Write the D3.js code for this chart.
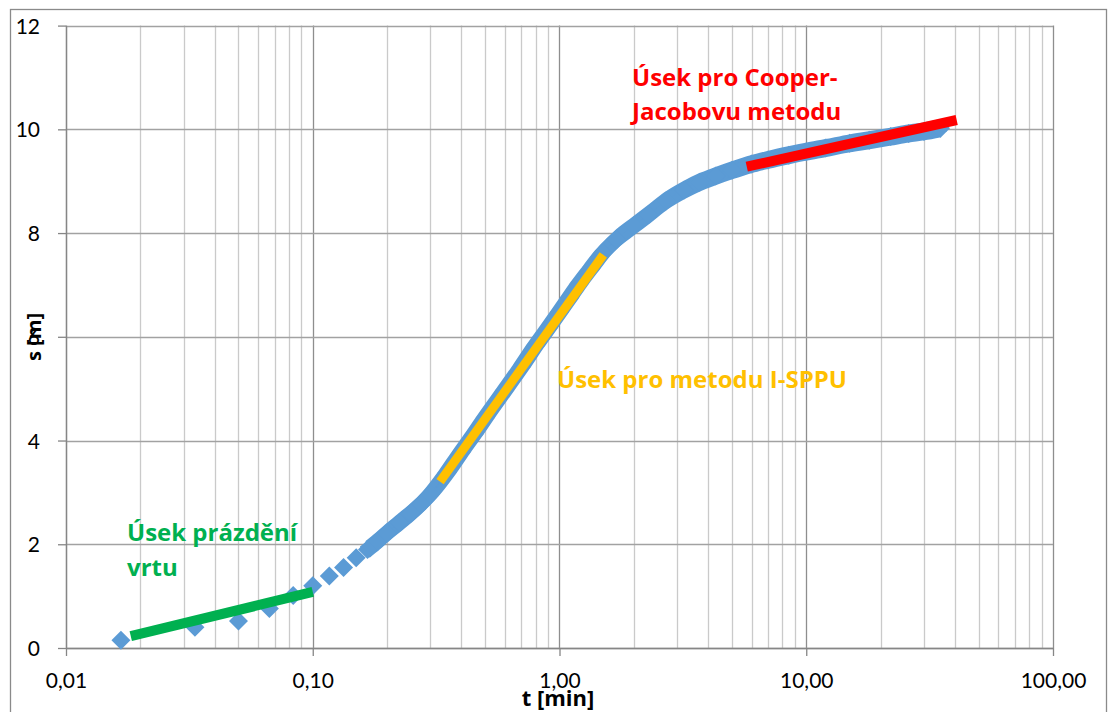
<!DOCTYPE html>
<html>
<head>
<meta charset="utf-8">
<script src="https://cdn.jsdelivr.net/npm/d3@7"></script>
<style>
  body { margin: 0; background: #fff; }
  svg { display: block; }
</style>
</head>
<body>
<script>
// measured drawdown, t [min] vs s [m]
var timeMin = [0.0167, 0.0333, 0.05, 0.0667, 0.0833, 0.1, 0.1167, 0.1333, 0.15, 0.1667,
    0.1833, 0.2, 0.225, 0.25, 0.275, 0.3, 0.35, 0.4, 0.45, 0.5, 0.6, 0.7, 0.8, 0.9,
    1.0, 1.1, 1.2, 1.35, 1.5, 1.7, 2.0, 2.3, 2.7, 3.2, 3.7, 4.3, 5, 6, 7, 8.5,
    10, 12, 15, 18, 22, 26, 30, 35];
var drawdown = [0.15, 0.40, 0.52, 0.76, 1.01, 1.20, 1.39, 1.55, 1.74, 1.90,
    2.06, 2.22, 2.42, 2.60, 2.78, 2.97, 3.38, 3.78, 4.12, 4.44, 4.97, 5.42, 5.83, 6.17,
    6.48, 6.76, 7.02, 7.34, 7.62, 7.88, 8.14, 8.36, 8.62, 8.83, 8.98, 9.10, 9.21, 9.33, 9.41, 9.50,
    9.57, 9.64, 9.73, 9.79, 9.86, 9.92, 9.96, 10.02];

// fitted segments (start, end)
var greenT = [0.0183, 0.1],  greenS = [0.23, 1.08];
var yellowT = [0.328, 1.505], yellowS = [3.21, 7.58];
var redT = [5.74, 40.7],      redS = [9.28, 10.18];

var xTicks = [0.01, 0.1, 1, 10, 100];
var xTickLabels = ['0,01', '0,10', '1,00', '10,00', '100,00'];
var yTicks = [0, 2, 4, 6, 8, 10, 12];

var W = 1112, H = 712;
var pLeft = 66, pRight = 1053, pTop = 25.6, pBottom = 648;

var svg = d3.select('body').append('svg')
    .attr('width', W)
    .attr('height', H)
    .style('font-family', '"Open Sans", Lato, sans-serif');

svg.append('rect').attr('width', W).attr('height', H).attr('fill', '#fff');

// chart border (cut off at the bottom in the original)
svg.append('rect')
    .attr('x', 10.5).attr('y', 9.5)
    .attr('width', 1096).attr('height', 730)
    .attr('fill', 'none')
    .attr('stroke', '#8a8a8a')
    .attr('stroke-width', 1.3);

var x = d3.scaleLog().domain([0.01, 100]).range([pLeft, pRight]);
var y = d3.scaleLinear().domain([0, 12]).range([pBottom, pTop]);

// minor vertical grid
var minor = [];
xTicks.slice(0, -1).forEach(function (d) {
    for (var k = 2; k <= 9; k++) minor.push(d * k);
});
svg.append('g').selectAll('line')
    .data(minor)
    .enter().append('line')
    .attr('x1', function (d) { return Math.round(x(d)) + 0.5; })
    .attr('x2', function (d) { return Math.round(x(d)) + 0.5; })
    .attr('y1', pTop).attr('y2', pBottom)
    .attr('stroke', '#cacaca')
    .attr('stroke-width', 1.3);

// major vertical grid
svg.append('g').selectAll('line')
    .data(xTicks)
    .enter().append('line')
    .attr('x1', function (d) { return Math.round(x(d)) + 0.5; })
    .attr('x2', function (d) { return Math.round(x(d)) + 0.5; })
    .attr('y1', pTop).attr('y2', pBottom)
    .attr('stroke', '#8e8e8e')
    .attr('stroke-width', 1.3);

// horizontal grid
svg.append('g').selectAll('line')
    .data(yTicks)
    .enter().append('line')
    .attr('x1', pLeft).attr('x2', pRight)
    .attr('y1', function (d) { return Math.round(y(d)) + 0.5; })
    .attr('y2', function (d) { return Math.round(y(d)) + 0.5; })
    .attr('stroke', '#a2a2a2')
    .attr('stroke-width', 1.3);

// axes
var yaxis = d3.axisLeft(y).tickValues(yTicks).tickSize(8).tickSizeOuter(0).tickPadding(18);
var xaxis = d3.axisBottom(x).tickValues(xTicks).tickSize(8).tickSizeOuter(0).tickPadding(17)
    .tickFormat(function (d, i) { return xTickLabels[i]; });

var gy = svg.append('g').attr('transform', 'translate(' + pLeft + ',0)').call(yaxis);
var gx = svg.append('g').attr('transform', 'translate(0,' + pBottom + ')').call(xaxis);
[gx, gy].forEach(function (g) {
    g.selectAll('path, line').attr('stroke', '#868686').attr('stroke-width', 1.3);
    g.selectAll('text').attr('fill', '#000').attr('font-size', '21px').attr('font-family', 'Lato');
});
gy.selectAll('text').attr('dy', '0.36em');

// blue data band + markers
var pts = timeMin.map(function (t, i) { return [t, drawdown[i]]; });
var blue = '#5b9bd5';
var line = d3.line()
    .x(function (d) { return x(d[0]); })
    .y(function (d) { return y(d[1]); })
    .curve(d3.curveMonotoneX);

// dense diamond markers merge into a band: sweep the line with a few offsets
var dense = pts.filter(function (d) { return d[0] >= 0.16; });
var off = 5.5;
[[0, 0], [0, -off], [0, off], [-off, 0], [off, 0]].forEach(function (o) {
    svg.append('path')
        .datum(dense)
        .attr('d', line)
        .attr('transform', 'translate(' + o[0] + ',' + o[1] + ')')
        .attr('fill', 'none')
        .attr('stroke', blue)
        .attr('stroke-width', 7)
        .attr('stroke-linejoin', 'round');
});

var m = 9.5;
svg.append('g').selectAll('path')
    .data(pts)
    .enter().append('path')
    .attr('d', 'M0,' + (-m) + 'L' + m + ',0L0,' + m + 'L' + (-m) + ',0Z')
    .attr('transform', function (d) { return 'translate(' + x(d[0]) + ',' + y(d[1]) + ')'; })
    .attr('fill', blue);

// fitted segments
function seg(ts, ss, color, w) {
    svg.append('path')
        .datum(ts.map(function (t, i) { return [t, ss[i]]; }))
        .attr('d', d3.line().x(function (d) { return x(d[0]); }).y(function (d) { return y(d[1]); }))
        .attr('fill', 'none')
        .attr('stroke', color)
        .attr('stroke-width', w);
}
seg(greenT, greenS, '#00b050', 10);
seg(yellowT, yellowS, '#ffc000', 9);
seg(redT, redS, '#ff0000', 10);

// annotations
function label(lines, x0, y0, color, lh) {
    var t = svg.append('text')
        .attr('x', x0).attr('y', y0)
        .attr('fill', color)
        .attr('font-size', '24px')
        .attr('font-weight', 'bold');
    lines.forEach(function (s, i) {
        t.append('tspan').attr('x', x0).attr('dy', i ? lh : 0).text(s);
    });
}
label(['Úsek pro Cooper-', 'Jacobovu metodu'], 632, 86, '#ff0000', 34);
label(['Úsek pro metodu I-SPPU'], 557, 388, '#ffc000', 0);
label(['Úsek prázdění', 'vrtu'], 127, 541, '#00b050', 35);

// axis titles
svg.append('text')
    .attr('x', 558).attr('y', 706)
    .attr('text-anchor', 'middle')
    .attr('font-size', '22px')
    .attr('font-weight', 'bold')
    .text('t [min]');

svg.append('text')
    .attr('transform', 'translate(41,337) rotate(-90)')
    .attr('text-anchor', 'middle')
    .attr('font-size', '20px')
    .attr('font-weight', 'bold')
    .text('s [m]');
</script>
</body>
</html>
